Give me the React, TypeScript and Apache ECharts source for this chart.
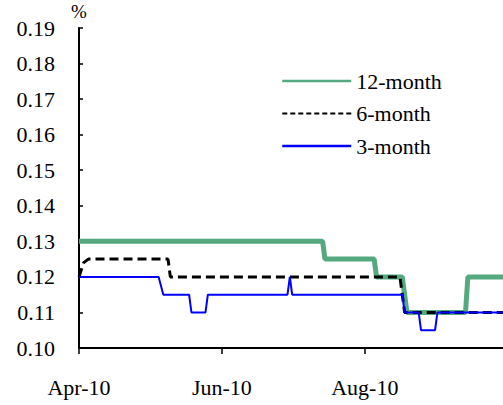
import React, { useEffect, useRef } from "react";
import * as echarts from "echarts";

const startDate = "2010-04-01";
const endDate = "2010-09-29";
const xTickDates = ["2010-04-01", "2010-06-01", "2010-08-01"];
const xTickLabels = ["Apr-10", "Jun-10", "Aug-10"];
const yTicks = [0.1, 0.11, 0.12, 0.13, 0.14, 0.15, 0.16, 0.17, 0.18, 0.19];

const m12Dates = ["2010-04-01", "2010-07-14", "2010-07-15", "2010-08-05", "2010-08-06", "2010-08-17", "2010-08-19", "2010-09-13", "2010-09-14", "2010-09-29"];
const m12Values = [0.13, 0.13, 0.125, 0.125, 0.12, 0.12, 0.11, 0.11, 0.12, 0.12];

const m6Dates = ["2010-04-01", "2010-04-03", "2010-04-05", "2010-05-09", "2010-05-10", "2010-08-16", "2010-08-18", "2010-09-29"];
const m6Values = [0.12, 0.124, 0.125, 0.125, 0.12, 0.12, 0.11, 0.11];

const m3Dates = ["2010-04-01", "2010-05-05", "2010-05-07", "2010-05-18", "2010-05-19", "2010-05-25", "2010-05-26", "2010-06-29", "2010-06-30", "2010-07-01", "2010-08-17", "2010-08-18", "2010-08-24", "2010-08-25", "2010-08-31", "2010-09-01", "2010-09-29"];
const m3Values = [0.12, 0.12, 0.115, 0.115, 0.11, 0.11, 0.115, 0.115, 0.12, 0.115, 0.115, 0.11, 0.11, 0.105, 0.105, 0.11, 0.11];

const seriesNames = ["12-month", "6-month", "3-month"];

const toUTC = (s: string) => {
  const [y, m, d] = s.split("-").map(Number);
  return Date.UTC(y, m - 1, d);
};
const dayOf = (s: string) => Math.round((toUTC(s) - toUTC(startDate)) / 86400000);
const pairs = (dates: string[], values: number[]) => dates.map((d, i) => [dayOf(d), values[i]]);

const FONT = "'Liberation Serif', 'Times New Roman', serif";
const noSymbol = { opacity: 0, borderWidth: 0 };

export default function App() {
  const ref = useRef<HTMLDivElement>(null);
  useEffect(() => {
    if (!ref.current) return;
    const chart = echarts.init(ref.current, null, { renderer: "svg" });
    const tickDays = xTickDates.map(dayOf);
    chart.setOption({
      animation: false,
      textStyle: { fontFamily: FONT },
      grid: { left: 79, top: 28, right: 0, bottom: 57 },
      legend: {
        orient: "vertical",
        left: 276,
        top: 65,
        itemWidth: 69,
        itemHeight: 12,
        itemGap: 10.5,
        textStyle: { fontFamily: FONT, fontSize: 22, color: "#000" },
        data: [
          { name: seriesNames[0], itemStyle: noSymbol, lineStyle: { width: 2.5, color: "#55a97f", type: "solid" } },
          { name: seriesNames[1], itemStyle: noSymbol, lineStyle: { width: 2, color: "#000", type: [5, 3] } },
          { name: seriesNames[2], itemStyle: noSymbol, lineStyle: { width: 2.5, color: "#0000ff", type: "solid" } },
        ],
      },
      xAxis: {
        type: "value",
        min: 0,
        max: dayOf(endDate),
        interval: tickDays[1] - tickDays[0],
        splitLine: { show: false },
        axisLine: { lineStyle: { color: "#000", width: 2 } },
        axisTick: { inside: false, length: 6, lineStyle: { color: "#000", width: 1.5 }, customValues: tickDays },
        axisLabel: {
          customValues: tickDays,
          margin: 28,
          fontSize: 22,
          fontFamily: FONT,
          color: "#000",
          formatter: (v: number) => {
            const i = tickDays.indexOf(Math.round(v));
            return i >= 0 ? xTickLabels[i] : "";
          },
        },
      },
      yAxis: {
        type: "value",
        min: yTicks[0],
        max: yTicks[yTicks.length - 1],
        interval: 0.01,
        name: "%",
        nameLocation: "end",
        nameGap: 7,
        nameTextStyle: { fontFamily: FONT, fontSize: 19, color: "#000", align: "center" },
        splitLine: { show: false },
        axisLine: { show: true, lineStyle: { color: "#000", width: 2 } },
        axisTick: { show: true, inside: true, length: 4, lineStyle: { color: "#000", width: 1.5 } },
        axisLabel: {
          margin: 24,
          fontSize: 22,
          fontFamily: FONT,
          color: "#000",
          formatter: (v: number) => v.toFixed(2),
        },
      },
      series: [
        {
          name: seriesNames[0],
          type: "line",
          symbol: "none",
          data: pairs(m12Dates, m12Values),
          lineStyle: { color: "#55a97f", width: 5 },
          itemStyle: { color: "#55a97f" },
          z: 1,
        },
        {
          name: seriesNames[1],
          type: "line",
          symbol: "none",
          data: pairs(m6Dates, m6Values),
          lineStyle: { color: "#000", width: 3, type: [9, 5] },
          itemStyle: { color: "#000" },
          z: 2,
        },
        {
          name: seriesNames[2],
          type: "line",
          symbol: "none",
          data: pairs(m3Dates, m3Values),
          lineStyle: { color: "#0000ff", width: 2 },
          itemStyle: { color: "#0000ff" },
          z: 3,
        },
      ],
    });
    return () => chart.dispose();
  }, []);
  return <div ref={ref} style={{ width: 503, height: 405, position: "absolute", left: 0, top: 0 }} />;
}
